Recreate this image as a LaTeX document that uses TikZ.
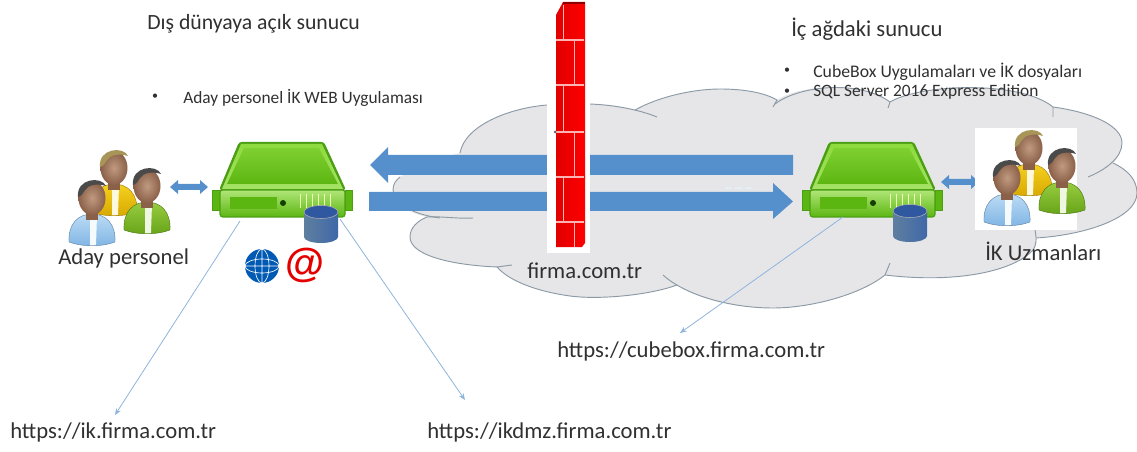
\documentclass[tikz,border=0pt]{standalone}
\usepackage{fontspec}
\setmainfont{Carlito}
\usetikzlibrary{arrows.meta}
\definecolor{arrowblue}{HTML}{5590CC}
\definecolor{cloudfill}{HTML}{E6E6E8}
\definecolor{cloudline}{HTML}{8C9AA6}
\definecolor{linkblue}{HTML}{8FB4DC}
\definecolor{txt}{HTML}{303030}
\definecolor{gEdge}{HTML}{4C9E14}
\definecolor{gLight}{HTML}{8EDB3E}
\definecolor{gMid}{HTML}{5CB612}
\definecolor{gDark}{HTML}{2F8A06}
\definecolor{skinA}{HTML}{C09A80}
\definecolor{skinB}{HTML}{8A6048}
\definecolor{hairDark}{HTML}{4A4A4A}
\definecolor{hairTan}{HTML}{A89558}
\definecolor{cylL}{HTML}{5F7F9F}
\definecolor{cylM}{HTML}{B8C0C8}
\definecolor{cylR}{HTML}{3F68A8}
\definecolor{cylT}{HTML}{2F58A0}
\definecolor{yelA}{HTML}{F5D020}
\definecolor{yelB}{HTML}{D8A800}
\definecolor{grnA}{HTML}{98CC40}
\definecolor{grnB}{HTML}{66A318}
\definecolor{bluA}{HTML}{BCDCF5}
\definecolor{bluB}{HTML}{7FB4E4}
\tikzset{
  bigarrow/.style={fill=arrowblue,draw=none},
  cloudedge/.style={draw=cloudline,line width=.7pt},
  link/.style={draw=linkblue,line width=.6pt,-{Stealth[length=5pt,width=4pt]}},
  lbl/.style={inner sep=0,text=txt,anchor=west},
  small/.style={font=\fontsize{13pt}{15pt}\selectfont},
  big/.style={font=\fontsize{17pt}{19pt}\selectfont},
  dotmark/.style={inner sep=0,text=txt,font=\fontsize{9pt}{11pt}\selectfont},
  brick/.style={draw=red!30!white,line width=.9pt},
  pics/server/.style={code={
    \fill[gMid,draw=gEdge,line width=.5pt] (-73,47) rectangle (-65,67);
    \fill[gMid,draw=gEdge,line width=.5pt] (60,47) rectangle (67,67);
    \fill[gEdge,rounded corners=2pt] (-46,-1) -- (39,-1) -- (61,47) -- (-66,47) -- cycle;
    \shade[top color=gLight,bottom color=gLight!80!white] (-44,1) -- (37,1) -- (58,46) -- (-63,46) -- cycle;
    \shade[top color=gLight!70!gMid,middle color=gDark,bottom color=gMid] (-41,5) -- (34,5) -- (53,41) -- (-58,41) -- cycle;
    \shade[top color=gLight!70!white,bottom color=gMid,draw=gEdge,line width=.8pt,rounded corners=2pt] (-65,47) rectangle (60,74);
    \fill[gMid] (-55,54) rectangle (-8,66);
    \fill[black!55!gDark] (-2,60) circle (3);
    \foreach \q in {15,21,27,33,39,45} \draw[white!70!lime,line width=.5pt] (\q,51) -- (\q,65);
  }},
  pics/dbcyl/.style={code={
    \shade[left color=cylL,middle color=cylM,right color=cylR] (-17,7) -- (-17,32) arc[start angle=180,end angle=0,x radius=17,y radius=6] -- (17,7) -- cycle;
    \fill[cylT,draw=gray!60] (0,7) ellipse[x radius=17,y radius=6.5];
  }},
  pics/person/.style args={#1/#2/#3}{code={
    \shade[top color=#1,bottom color=#2,draw=#2!70!black,line width=.3pt] (-23,52) .. controls (-24,34) and (-14,24) .. (0,24) .. controls (14,24) and (24,34) .. (23,52) .. controls (10,57) and (-10,57) .. cycle;
    \fill[white!85!#1] (-2,26) -- (5,26) -- (4,55) -- (-2,55) -- cycle;
    \fill[skinB] (-6,14) rectangle (6,30);
    \shade[inner color=skinA,outer color=skinB] (0,8) ellipse[x radius=13.5,y radius=17];
    \fill[#3] (-14,7) .. controls (-16,-12) and (10,-14) .. (14,-4) .. controls (5,-7) and (-4,-5) .. (-7,0) .. controls (-9,3) and (-10,6) .. cycle;
  }},
}
\begin{document}
\begin{tikzpicture}[x=.75pt,y=-.75pt]
\useasboundingbox (0,0) rectangle (1137,452);
% cloud
\path[fill=cloudfill] (460,153) .. controls (465,125) and (510,108) .. (547,105) -- (590,104)
  .. controls (610,104) and (625,107) .. (635,110)
  .. controls (660,96) and (695,89) .. (720,89) .. controls (745,89) and (765,93) .. (777,100)
  .. controls (800,85) and (860,80) .. (890,102)
  .. controls (920,84) and (1020,80) .. (1053,107)
  .. controls (1090,112) and (1122,125) .. (1122,143) .. controls (1122,150) and (1118,158) .. (1113,163)
  .. controls (1128,170) and (1137,180) .. (1137,193) .. controls (1137,218) and (1085,235) .. (1036,238)
  .. controls (1037,245) and (1035,248) .. (1033,250) .. controls (1015,270) and (960,284) .. (885,275)
  .. controls (860,295) and (810,308) .. (773,308) .. controls (735,308) and (700,300) .. (677,285)
  .. controls (650,295) and (600,300) .. (570,296) .. controls (540,292) and (510,282) .. (497,267)
  .. controls (450,265) and (410,255) .. (410,237) .. controls (410,228) and (417,221) .. (427,217)
  .. controls (405,212) and (393,202) .. (393,190) .. controls (393,184) and (396,180) .. (400,177)
  .. controls (420,165) and (440,158) .. (460,153) -- cycle;
% cloud edges
\draw[cloudedge] (460,153) .. controls (465,125) and (510,108) .. (547,105) -- (590,104) .. controls (615,105) and (640,110) .. (657,117);
\draw[cloudedge] (635,110) .. controls (660,96) and (695,89) .. (720,89) .. controls (745,89) and (765,93) .. (777,100) -- (773,107);
\draw[cloudedge] (775,104) .. controls (800,85) and (860,80) .. (890,102);
\draw[cloudedge] (888,108) -- (890,102) .. controls (920,84) and (1020,80) .. (1053,107);
\draw[cloudedge] (1053,117) -- (1053,107) .. controls (1090,112) and (1122,125) .. (1122,143) .. controls (1122,158) and (1105,170) .. (1088,177);
\draw[cloudedge] (1113,163) .. controls (1128,170) and (1137,180) .. (1137,193) .. controls (1137,218) and (1085,235) .. (1036,238);
\draw[cloudedge] (1035,230) .. controls (1037,240) and (1036,246) .. (1033,250) .. controls (1015,270) and (960,284) .. (885,275);
\draw[cloudedge] (890,263) -- (885,275) .. controls (860,295) and (810,308) .. (773,308) .. controls (730,308) and (685,295) .. (663,275);
\draw[cloudedge] (677,285) .. controls (650,295) and (600,300) .. (570,296) .. controls (540,292) and (510,282) .. (497,267) -- (512,265);
\draw[cloudedge] (497,267) .. controls (450,265) and (410,255) .. (410,237) .. controls (410,228) and (417,221) .. (427,217) .. controls (440,216) and (458,219) .. (473,218);
\draw[cloudedge] (440,218) .. controls (410,214) and (393,202) .. (393,190) .. controls (393,184) and (396,180) .. (400,177);
% big arrows
\fill[bigarrow] (370,165) -- (388,147) -- (388,155) -- (793,155) -- (793,175) -- (388,175) -- (388,183) -- cycle;
\fill[bigarrow] (369,192) -- (773,192) -- (773,183) -- (793,201.5) -- (773,219) -- (773,211) -- (369,211) -- cycle;
\foreach \q in {725,735,745} \fill[white!85!arrowblue] (\q,187.5) rectangle +(7,1.5);
% small double arrows
\fill[arrowblue] (170,187) -- (178,180) -- (178,184) -- (200,184) -- (200,180) -- (208,187) -- (200,194) -- (200,190) -- (178,190) -- (178,194) -- cycle;
\fill[arrowblue] (941,182) -- (949,175) -- (949,179) -- (971,179) -- (971,175) -- (979,182) -- (971,189) -- (971,185) -- (949,185) -- (949,189) -- cycle;
% firewall
\fill[white] (547,0) rectangle (590,253);
\shade[left color=red!88!black,right color=red] (556,15) -- (563,2) -- (585,2) -- (585,243) -- (582,247) -- (556,247) -- cycle;
\fill[red!55!black] (563,2) rectangle (585,4);
\foreach \q in {40,85,132,177,222} \draw[brick] (556,\q) -- (584,\q);
\foreach \a/\b/\c in {563/5/40,574/40/85,563/85/132,574/132/177,563/177/222,574/222/247} \draw[brick,line width=.4pt] (\a,\b) -- (\a,\c);
\fill[black!60] (555,132) circle (1.5);
% servers
\path (285,143) pic {server};
\path (875,143) pic {server};
\path (321,205) pic {dbcyl};
\path (910,204) pic {dbcyl};
% right people background
\fill[white] (975,128) rectangle (1077,230);
% people
\path (114,160) pic {person={yelA/yelB/hairTan}};
\path (147,178) pic {person={grnA/grnB/hairDark}};
\path (92,190) pic {person={bluA/bluB/hairDark}};
\path (1029,140) pic {person={yelA/yelB/hairTan}};
\path (1062,158) pic {person={grnA/grnB/hairDark}};
\path (1007,170) pic {person={bluA/bluB/hairDark}};
% globe and at
\node[circle,fill=blue!50!cyan!70!black,minimum size=25.5pt,inner sep=0] (globe) at (262,266) {};
\draw[white,line width=.5pt] (globe.center) ellipse[x radius=17,y radius=7] (globe.center) ellipse[x radius=7,y radius=17] (245,266) -- (279,266) (262,249) -- (262,283);
\node[text=red!90!black,inner sep=0,font={\fontspec{Liberation Sans Bold}\fontsize{30pt}{30pt}\selectfont}] (atsign) at (305,265) {@};
% anchors for links
\coordinate (srvA) at (240,221);
\coordinate (srvB) at (340,219);
\coordinate (srvC) at (843,217);
\coordinate (endA) at (115,415);
\coordinate (endB) at (465,400);
\coordinate (endC) at (680,333);
\draw[link] (srvA) -- (endA);
\draw[link] (srvB) -- (endB);
\draw[link] (srvC) -- (endC);
% texts
\node[lbl,font=\fontsize{16.3pt}{19pt}\selectfont] (t1) at (147,24) {Dış dünyaya açık sunucu};
\node[lbl,font=\fontsize{17pt}{19pt}\selectfont] (t2) at (791,29) {İç ağdaki sunucu};
\node[dotmark] (b1) at (155,97) {•};
\node[lbl,small] (t3) at (183,98) {Aday personel İK WEB Uygulaması};
\node[dotmark] (b2) at (787,71) {•};
\node[lbl,font=\fontsize{13.3pt}{15pt}\selectfont] (t4) at (813,72) {CubeBox Uygulamaları ve İK dosyaları};
\node[dotmark] (b3) at (787,92) {•};
\node[lbl,small] (t5) at (813,92) {SQL Server 2016 Express Edition};
\node[lbl,big] (t6) at (58,258) {Aday personel};
\node[lbl,big] (t7) at (985,251) {İK Uzmanları};
\node[lbl,big] (t8) at (527,271) {firma.com.tr};
\node[lbl,big] (t9) at (557,351) {https://cubebox.firma.com.tr};
\node[lbl,big] (t10) at (10,432) {https://ik.firma.com.tr};
\node[lbl,big] (t11) at (427,432) {https://ikdmz.firma.com.tr};
\end{tikzpicture}
\end{document}
